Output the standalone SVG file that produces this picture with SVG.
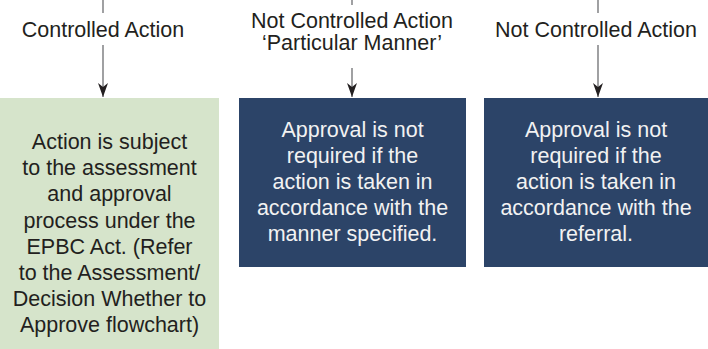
<svg xmlns="http://www.w3.org/2000/svg" width="708" height="349" viewBox="0 0 708 349">
<defs>
<style>
.lbl{font-family:"Liberation Sans",Arial,Helvetica,sans-serif;font-size:21.5px;fill:#231f20;text-anchor:middle}
.wt{font-family:"Liberation Sans",Arial,Helvetica,sans-serif;font-size:21.5px;fill:#f2f2f2;text-anchor:middle}
.dk{font-family:"Liberation Sans",Arial,Helvetica,sans-serif;font-size:21.5px;fill:#231f20;text-anchor:middle}
.ln{stroke:#6d6e71;stroke-width:1.3;fill:none}
.navy{fill:#2c4468}
.green{fill:#d6e4cb}
</style>
<marker id="ah" markerWidth="15" markerHeight="10" refX="14" refY="5" orient="auto" markerUnits="userSpaceOnUse" viewBox="0 0 15 10">
<path d="M0,0 L14,5 L0,10 L4,5 Z" fill="#231f20"/>
</marker>
</defs>
<g id="connectors">
<line class="ln" x1="103" y1="0" x2="103" y2="13"/>
<line class="ln" x1="103" y1="45" x2="103" y2="97" marker-end="url(#ah)"/>
<line class="ln" x1="352" y1="0" x2="352" y2="5"/>
<line class="ln" x1="352" y1="68" x2="352" y2="97" marker-end="url(#ah)"/>
<line class="ln" x1="598" y1="0" x2="598" y2="13"/>
<line class="ln" x1="598" y1="45" x2="598" y2="97" marker-end="url(#ah)"/>
</g>
<g id="labels">
<text class="lbl" x="103" y="37">Controlled Action</text>
<text class="lbl" x="352" y="27.5">Not Controlled Action</text>
<text class="lbl" x="352" y="50">‘Particular Manner’</text>
<text class="lbl" x="596" y="37">Not Controlled Action</text>
</g>
<g id="node-controlled">
<rect class="green" x="0" y="98" width="219" height="251"/>
<text class="dk" x="109.5" y="149">Action is subject</text>
<text class="dk" x="109.5" y="175.2">to the assessment</text>
<text class="dk" x="109.5" y="201.4">and approval</text>
<text class="dk" x="109.5" y="227.6">process under the</text>
<text class="dk" x="109.5" y="253.8">EPBC Act. (Refer</text>
<text class="dk" x="109.5" y="280">to the Assessment/</text>
<text class="dk" x="109.5" y="306.2">Decision Whether to</text>
<text class="dk" x="109.5" y="332.4">Approve flowchart)</text>
</g>
<g id="node-particular-manner">
<rect class="navy" x="239" y="98" width="227" height="169"/>
<text class="wt" x="352.5" y="137.3">Approval is not</text>
<text class="wt" x="352.5" y="163.3">required if the</text>
<text class="wt" x="352.5" y="189.3">action is taken in</text>
<text class="wt" x="352.5" y="215.3">accordance with the</text>
<text class="wt" x="352.5" y="241.3">manner specified.</text>
</g>
<g id="node-not-controlled">
<rect class="navy" x="484" y="98" width="224" height="169"/>
<text class="wt" x="596" y="137.3">Approval is not</text>
<text class="wt" x="596" y="163.3">required if the</text>
<text class="wt" x="596" y="189.3">action is taken in</text>
<text class="wt" x="596" y="215.3">accordance with the</text>
<text class="wt" x="596" y="241.3">referral.</text>
</g>
</svg>
